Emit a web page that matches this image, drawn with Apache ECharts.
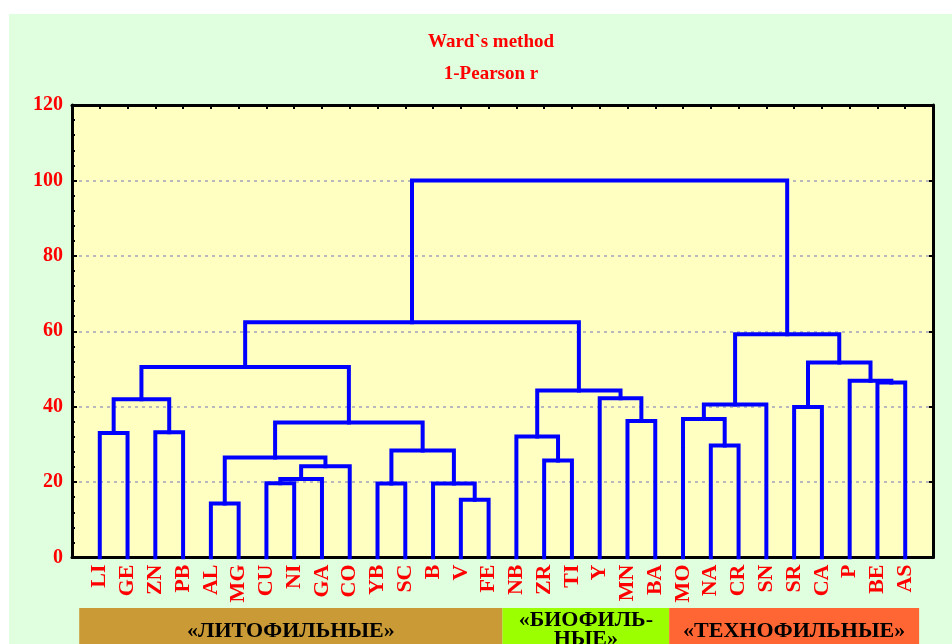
<!DOCTYPE html>
<html>
<head>
<meta charset="utf-8">
<title>Ward`s method dendrogram</title>
<script src="https://cdn.jsdelivr.net/npm/echarts@6/dist/echarts.min.js"></script>
<style>
  html, body { margin: 0; padding: 0; background: #ffffff; }
  #wrap { position: relative; width: 952px; height: 644px; overflow: hidden; }
  #bg { position: absolute; left: 9px; top: 14px; right: 0; bottom: 0; background: #dfffdf; }
  #chart { position: absolute; left: 0; top: 0; width: 952px; height: 644px; }
</style>
</head>
<body>
<div id="wrap">
  <div id="bg"></div>
  <div id="chart"></div>
</div>
<script>
// Leaf order along the horizontal axis
const leaves = ['LI','GE','ZN','PB','AL','MG','CU','NI','GA','CO','YB','SC','B','V','FE',
                'NB','ZR','TI','Y','MN','BA','MO','NA','CR','SN','SR','CA','P','BE','AS'];

// Agglomeration steps: ids < 30 are leaves, id 30+k is the cluster made at step k
const joinLeft   = [0, 2, 30, 4, 6, 34, 35, 33, 10, 13, 12, 38, 37, 32, 16, 15, 19, 18, 45, 43, 22, 21, 51, 25, 28, 27, 53, 52, 49];
const joinRight  = [1, 3, 31, 5, 7, 8, 9, 36, 11, 14, 39, 40, 41, 42, 17, 44, 20, 46, 47, 48, 23, 50, 24, 26, 29, 54, 55, 56, 57];
const joinHeight = [33.0, 33.2, 42.0, 14.3, 19.7, 20.8, 24.2, 26.5, 19.6, 15.3, 19.6, 28.4, 35.8, 50.5,
                    25.7, 32.1, 36.2, 42.2, 44.3, 62.4, 29.7, 36.7, 40.6, 39.9, 46.4, 46.9, 51.7, 59.2, 100.0];

// Element groups shown as coloured bands under the leaf labels (edges in leaf units)
const groupNames = ['«ЛИТОФИЛЬНЫЕ»', '«БИОФИЛЬ-\nНЫЕ»', '«ТЕХНОФИЛЬНЫЕ»'];
const groupFrom  = [-0.74, 14.5, 20.5];
const groupTo    = [14.5, 20.5, 29.5];
const groupColors = ['#c99a36', '#9cff00', '#ff6633'];

const FONT = '"Liberation Serif", "Times New Roman", serif';

// Build the U-shaped links of the dendrogram in data units
const nodeX = leaves.map((_, i) => i);
const nodeH = leaves.map(() => 0);
const links = [];
for (let k = 0; k < joinHeight.length; k++) {
  const a = joinLeft[k], b = joinRight[k], h = joinHeight[k];
  links.push({ coords: [[nodeX[a], nodeH[a]], [nodeX[a], h], [nodeX[b], h], [nodeX[b], nodeH[b]]] });
  nodeX.push((nodeX[a] + nodeX[b]) / 2);
  nodeH.push(h);
}

const chart = echarts.init(document.getElementById('chart'), null, { renderer: 'canvas' });

const frameLine = { show: true, onZero: false, lineStyle: { color: '#000000', width: 3 } };
const titleStyle = { color: '#ff0000', fontSize: 19, fontWeight: 'bold', fontFamily: FONT };

chart.setOption({
  backgroundColor: 'transparent',
  animation: false,
  title: [
    { text: 'Ward`s method', left: 486, top: 28, textAlign: 'center', textStyle: titleStyle },
    { text: '1-Pearson r', left: 486, top: 60, textAlign: 'center', textStyle: titleStyle }
  ],
  grid: {
    left: 72, top: 105, right: 19, bottom: 86.5,
    show: true, backgroundColor: '#ffffc2', borderWidth: 0
  },
  xAxis: [
    {
      type: 'value', min: -1, max: 30, interval: 1, position: 'bottom',
      axisLine: frameLine,
      axisTick: { show: true, inside: true, length: 3, lineStyle: { color: '#000000', width: 2 } },
      splitLine: { show: false },
      axisLabel: {
        rotate: 90, margin: 7, color: '#ff0000', fontSize: 22, fontWeight: 'bold', fontFamily: FONT,
        formatter: v => leaves[v] !== undefined ? leaves[v] : ''
      }
    },
    {
      type: 'value', min: -1, max: 30, interval: 1, position: 'top',
      axisLine: frameLine,
      axisTick: { show: true, inside: true, length: 4, lineStyle: { color: '#000000', width: 2 } },
      splitLine: { show: false },
      axisLabel: { show: false }
    }
  ],
  yAxis: [
    {
      type: 'value', min: 0, max: 120, interval: 20, position: 'left',
      axisLine: frameLine,
      axisTick: { show: true, inside: true, length: 5, lineStyle: { color: '#000000', width: 2 } },
      minorTick: { show: true, splitNumber: 5, length: 3, lineStyle: { color: '#000000', width: 2 } },
      splitLine: { show: true, lineStyle: { color: '#b9b9bd', width: 2, type: [3, 4] } },
      axisLabel: { margin: 9, color: '#ff0000', fontSize: 20, fontWeight: 'bold', fontFamily: FONT }
    },
    {
      type: 'value', min: 0, max: 120, interval: 20, position: 'right',
      axisLine: frameLine,
      axisTick: { show: true, inside: true, length: 4, lineStyle: { color: '#000000', width: 2 } },
      splitLine: { show: false },
      axisLabel: { show: false }
    }
  ],
  series: [{
    type: 'lines',
    coordinateSystem: 'cartesian2d',
    xAxisIndex: 0,
    yAxisIndex: 0,
    polyline: true,
    silent: true,
    lineStyle: { color: '#0000ff', width: 4, opacity: 1, join: 'miter', cap: 'square' },
    data: links
  }]
});

// Coloured group bands placed from leaf positions on the x axis
const bandTop = 608, bandHeight = 36;
const bands = [];
groupNames.forEach((name, i) => {
  const x0 = chart.convertToPixel({ xAxisIndex: 0 }, groupFrom[i]);
  const x1 = chart.convertToPixel({ xAxisIndex: 0 }, groupTo[i]);
  bands.push({
    type: 'rect', silent: true,
    shape: { x: x0, y: bandTop, width: x1 - x0, height: bandHeight },
    style: { fill: groupColors[i] }
  });
  bands.push({
    type: 'text', silent: true,
    style: {
      text: name, x: (x0 + x1) / 2, y: name.indexOf('\n') >= 0 ? 630 : 631,
      align: 'center', verticalAlign: 'middle',
      font: 'bold 22px ' + FONT, lineHeight: 18.5, fill: '#000000'
    }
  });
});
chart.setOption({ graphic: bands });
</script>
</body>
</html>
